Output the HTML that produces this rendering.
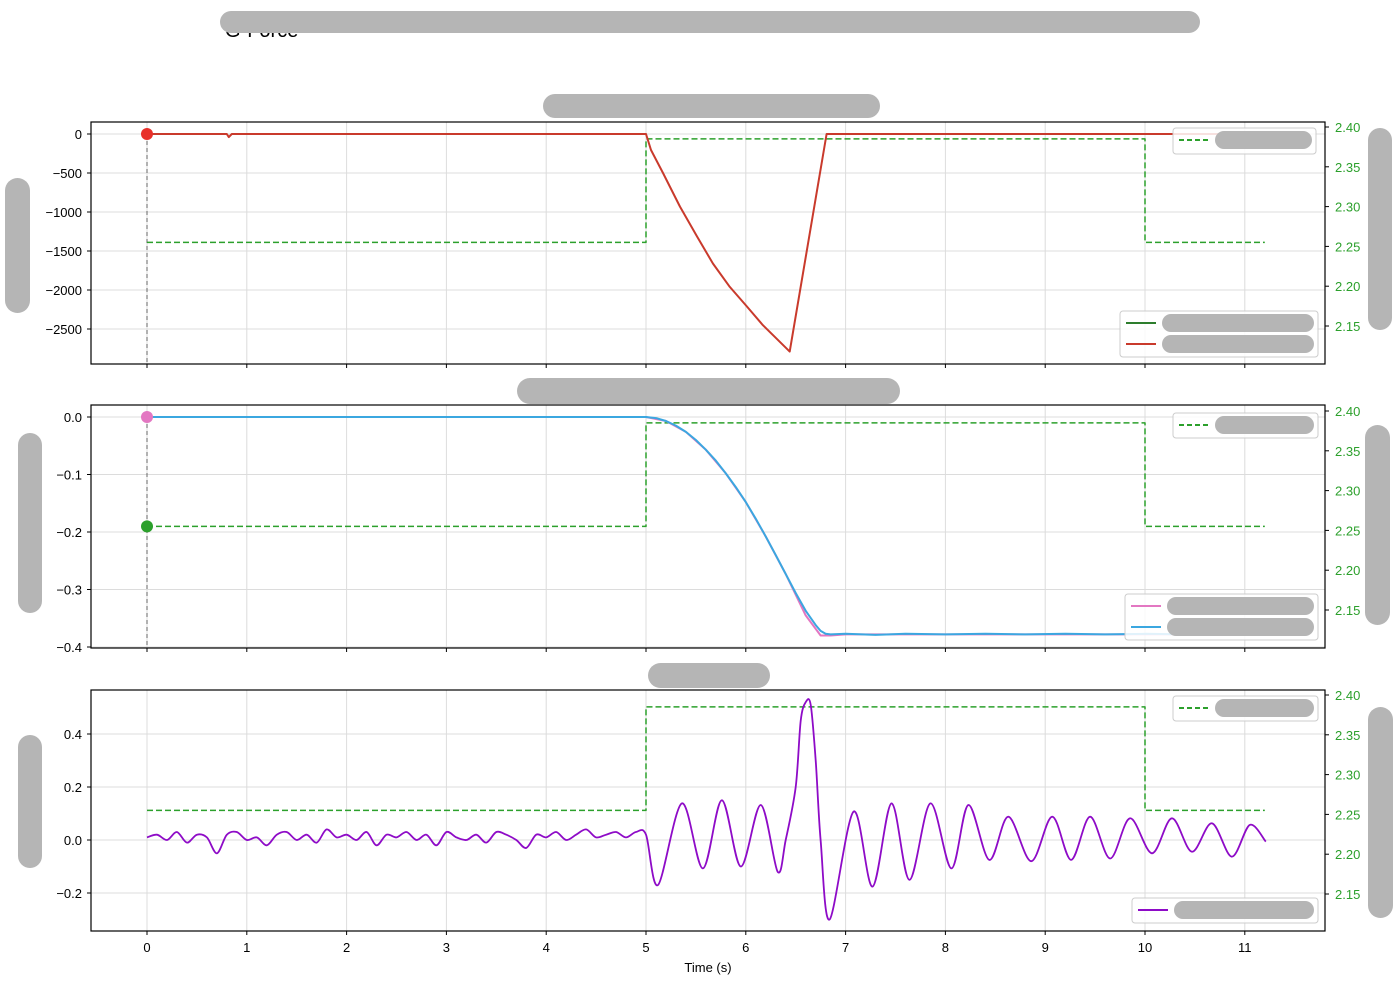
<!DOCTYPE html>
<html><head><meta charset="utf-8">
<style>
html,body{margin:0;padding:0;background:#fff;}
svg{display:block;font-family:"Liberation Sans","DejaVu Sans",sans-serif;}
</style></head>
<body>
<svg id="chart" width="1400" height="1000" viewBox="0 0 1400 1000" xmlns="http://www.w3.org/2000/svg"></svg>
<script>
// ---------- DATA ----------
const xTicks = [0,1,2,3,4,5,6,7,8,9,10,11];
const stepTimes = [0, 5, 5, 10, 10, 11.2];
const stepValues = [2.255, 2.255, 2.385, 2.385, 2.255, 2.255];
const rightTicks = [2.15, 2.20, 2.25, 2.30, 2.35, 2.40];

const p1Ticks = [0,-500,-1000,-1500,-2000,-2500];
const forceT = [0,0.8,0.82,0.85,5.0,5.05,5.17,5.34,5.51,5.67,5.84,6.01,6.17,6.44,6.81,11.25];
const forceV = [0,0,-40,0,0,-205,-500,-930,-1310,-1660,-1960,-2210,-2450,-2790,0,0];

const p2Ticks = [0.0,-0.1,-0.2,-0.3,-0.4];
const posT = [0,5.0,5.1,5.2,5.3,5.4,5.5,5.6,5.7,5.8,5.9,6.0,6.1,6.2,6.3,6.4,6.5,6.6,6.7,6.75,6.8,6.85,7.0,7.3,7.6,8.0,8.4,8.8,9.2,9.6,10.0,10.4,10.8,11.25];
const posV = [0,0,-0.002,-0.007,-0.015,-0.026,-0.04,-0.057,-0.076,-0.098,-0.122,-0.148,-0.177,-0.208,-0.24,-0.273,-0.306,-0.337,-0.362,-0.372,-0.377,-0.378,-0.377,-0.379,-0.377,-0.378,-0.377,-0.378,-0.377,-0.378,-0.377,-0.378,-0.377,-0.377];
const targetT = [0,5.0,5.2,5.4,5.6,5.8,6.0,6.2,6.4,6.6,6.75,6.85,7.0,11.25];
const targetV = [0,0,-0.007,-0.026,-0.057,-0.098,-0.148,-0.208,-0.273,-0.345,-0.38,-0.38,-0.378,-0.378];

const p3Ticks = [0.4,0.2,0.0,-0.2];
const noiseV = [0.01,0.02,0.0,0.03,-0.01,0.02,0.01,-0.05,0.02,0.03,0.0,0.01,-0.02,0.02,0.03,0.0,0.02,-0.01,0.04,0.01,0.02,0.0,0.03,-0.02,0.02,0.01,0.03,0.0,0.02,-0.02,0.03,0.01,0.0,0.02,-0.01,0.03,0.02,0.0,-0.03,0.02,0.01,0.03,0.0,0.02,0.04,0.01,0.02,0.03,0.01,0.03];
const accT = [5.0,5.12,5.36,5.57,5.76,5.95,6.15,6.32,6.4,6.5,6.55,6.6,6.65,6.7,6.75,6.84,7.08,7.27,7.46,7.64,7.85,8.06,8.23,8.44,8.63,8.86,9.07,9.26,9.45,9.65,9.85,10.07,10.27,10.47,10.67,10.87,11.05,11.21];
const accV = [0.02,-0.17,0.138,-0.107,0.15,-0.10,0.132,-0.12,0.0,0.2,0.45,0.52,0.51,0.3,0.0,-0.30,0.107,-0.176,0.138,-0.15,0.138,-0.107,0.132,-0.075,0.088,-0.08,0.088,-0.075,0.088,-0.07,0.082,-0.05,0.082,-0.044,0.063,-0.063,0.057,-0.006];

// ---------- HELPERS ----------
const svg = document.getElementById('chart');
const NS = 'http://www.w3.org/2000/svg';
function mk(tag, attrs, parent){ const e=document.createElementNS(NS,tag); for(const k in attrs) e.setAttribute(k,attrs[k]); (parent||svg).appendChild(e); return e; }
const X0=91, X1=1325;
const xs = t => 147 + t*99.8;
function linMap(v0,p0,v1,p1){ return v => p0 + (v-v0)*(p1-p0)/(v1-v0); }
function blob(x,y,w,h,name){ const r=mk('rect',{x:x,y:y,width:w,height:h,rx:Math.min(w,h)/2,fill:'#b5b5b5'});   return r; }
function poly(ts,vs,ys,color,w,name,dash,smooth){
  const P=ts.map((t,i)=>[xs(t),ys(vs[i])]);
  let d='M'+P[0][0].toFixed(1)+' '+P[0][1].toFixed(1);
  for(let i=1;i<P.length;i++){
    if(smooth){
      const p0=P[Math.max(0,i-2)],p1=P[i-1],p2=P[i],p3=P[Math.min(P.length-1,i+1)];
      const k=0.16;
      const c1=[p1[0]+(p2[0]-p0[0])*k,p1[1]+(p2[1]-p0[1])*k];
      const c2=[p2[0]-(p3[0]-p1[0])*k,p2[1]-(p3[1]-p1[1])*k];
      d+='C'+c1[0].toFixed(1)+' '+c1[1].toFixed(1)+' '+c2[0].toFixed(1)+' '+c2[1].toFixed(1)+' '+p2[0].toFixed(1)+' '+p2[1].toFixed(1);
    } else d+='L'+P[i][0].toFixed(1)+' '+P[i][1].toFixed(1);
  }
  const p=mk('path',{d:d,fill:'none',stroke:color,'stroke-width':w,'stroke-linejoin':'round'}); if(dash) p.setAttribute('stroke-dasharray',dash);   return p; }

function panel(top,bot,leftTicks,ly,fmt,ry,idx,showXLabels){
  const g=mk('g',{});
  
  
  xTicks.forEach(t=>{ mk('line',{x1:xs(t),x2:xs(t),y1:top,y2:bot,stroke:'#dcdcdc','stroke-width':1},g); });
  leftTicks.forEach(v=>{ mk('line',{x1:X0,x2:X1,y1:ly(v),y2:ly(v),stroke:'#dcdcdc','stroke-width':1},g); });
  leftTicks.forEach(v=>{ const y=ly(v); mk('line',{x1:X0-4,x2:X0,y1:y,y2:y,stroke:'#000'},g);
    const t=mk('text',{x:X0-9,y:y+5,'text-anchor':'end','font-size':13,fill:'#000'},g); t.textContent=fmt(v);
      });
  rightTicks.forEach(v=>{ const y=ry(v); mk('line',{x1:X1,x2:X1+4,y1:y,y2:y,stroke:'#000'},g);
    const t=mk('text',{x:X1+10,y:y+5,'font-size':13,fill:'#2ca02c'},g); t.textContent=v.toFixed(2);
      });
  xTicks.forEach(t=>{ mk('line',{x1:xs(t),x2:xs(t),y1:bot,y2:bot+4,stroke:'#000'},g);
    if(showXLabels){ const tx=mk('text',{x:xs(t),y:bot+21,'text-anchor':'middle','font-size':13,fill:'#000'},g); tx.textContent=t;
        } });
  return g;
}

// ---------- PANEL 1 ----------
const ly1=linMap(0,134,-2500,329), ry1=linMap(2.40,127,2.15,326);
panel(122,364,p1Ticks,ly1,v=>String(v).replace('-','\u2212'),ry1,1,false);
mk('line',{x1:xs(0),x2:xs(0),y1:134,y2:364,stroke:'#666','stroke-dasharray':'4,3'});
poly(stepTimes,stepValues,ry1,'#2ca02c',1.5,'setpoint-step-1','6,3');
poly(forceT,forceV,ly1,'#c93a2c',2,'force-line');
const m1=mk('circle',{cx:xs(0),cy:ly1(0),r:6,fill:'#e8302a'});  

// ---------- PANEL 2 ----------
const ly2=linMap(0,417,-0.4,647), ry2=linMap(2.40,411,2.15,610);
panel(405,648,p2Ticks,ly2,v=>v.toFixed(1).replace('-','\u2212'),ry2,2,false);
mk('line',{x1:xs(0),x2:xs(0),y1:417,y2:648,stroke:'#666','stroke-dasharray':'4,3'});
poly(stepTimes,stepValues,ry2,'#2ca02c',1.5,'setpoint-step-2','6,3');
poly(targetT,targetV,ly2,'#e377c2',2,'target-position-line');
poly(posT,posV,ly2,'#3ba7e0',2,'position-line');
const m2=mk('circle',{cx:xs(0),cy:ly2(0),r:6,fill:'#e377c2'});  
const m3=mk('circle',{cx:xs(0),cy:ry2(2.255),r:6,fill:'#2ca02c'});  

// ---------- PANEL 3 ----------
const ly3=linMap(0,840,0.2,787), ry3=linMap(2.40,695,2.15,894);
panel(690,931,p3Ticks,ly3,v=>v.toFixed(1).replace('-','\u2212'),ry3,3,true);
poly(stepTimes,stepValues,ry3,'#2ca02c',1.5,'setpoint-step-3','6,3');
const noiseT = noiseV.map((v,i)=>i*0.1);
poly(noiseT.concat(accT),noiseV.concat(accV),ly3,'#8e0bc7',1.8,'acceleration-line',null,true);

[[122,364],[405,648],[690,931]].forEach(([a,b],i)=>{ const r=mk('rect',{x:X0,y:a,width:X1-X0,height:b-a,fill:'none',stroke:'#000','stroke-width':1.2});   });

const xl=mk('text',{x:708,y:972,'text-anchor':'middle','font-size':13,fill:'#000'}); xl.textContent='Time (s)';
 

function legendBox(x,y,w,h,entries,name){
  const g=mk('g',{});  
  mk('rect',{x:x,y:y,width:w,height:h,rx:3,fill:'#fff',stroke:'#ccc','fill-opacity':0.85},g);
  entries.forEach((e,i)=>{ const yy=y+12+i*21;
    const l=mk('line',{x1:x+6,x2:x+36,y1:yy,y2:yy,stroke:e.c,'stroke-width':2},g); if(e.d) l.setAttribute('stroke-dasharray','5,3');
    blob(x+42,yy-9,w-46,18,'legend-label-redacted'); });
}
legendBox(1173,128,143,26,[{c:'#2ca02c',d:1}],'legend-setpoint-1');
legendBox(1120,311,198,46,[{c:'#2d7d2d'},{c:'#c93a2c'}],'legend-force');
legendBox(1173,413,145,25,[{c:'#2ca02c',d:1}],'legend-setpoint-2');
legendBox(1125,594,193,46,[{c:'#e377c2'},{c:'#3ba7e0'}],'legend-position');
legendBox(1173,696,145,25,[{c:'#2ca02c',d:1}],'legend-setpoint-3');
legendBox(1132,898,186,25,[{c:'#8e0bc7'}],'legend-acceleration');

const tt=mk('text',{x:225,y:37,'font-size':20,fill:'#000'}); tt.textContent='G-Force';
 
blob(220,11,980,22,'title-redacted');
blob(543,94,337,24,'panel1-title-redacted');
blob(517,378,383,26,'panel2-title-redacted');
blob(648,663,122,25,'panel3-title-redacted');
blob(5,178,25,135,'panel1-ylabel-redacted');
blob(18,433,24,180,'panel2-ylabel-redacted');
blob(18,735,24,133,'panel3-ylabel-redacted');
blob(1368,128,24,202,'panel1-right-ylabel-redacted');
blob(1365,425,25,200,'panel2-right-ylabel-redacted');
blob(1368,707,25,211,'panel3-right-ylabel-redacted');
</script>
</body></html>
